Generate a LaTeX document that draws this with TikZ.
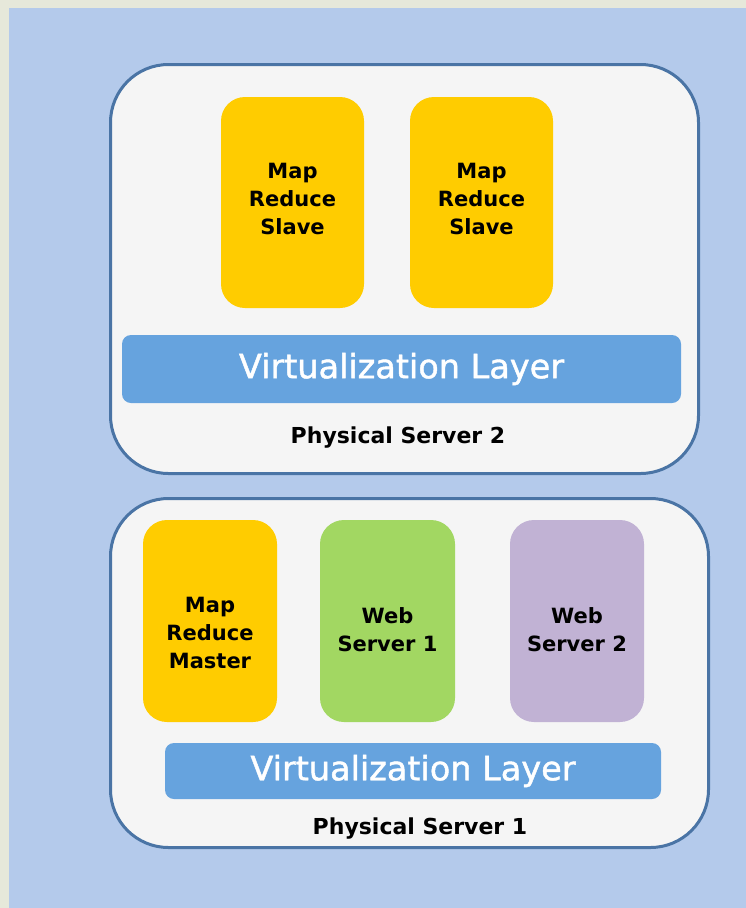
\documentclass[tikz,border=0pt]{standalone}
\usepackage{fontspec}
\setmainfont{DejaVu Sans}
\newfontface\virtfont{DejaVu Sans}[FakeBold=1.3]
\usetikzlibrary{positioning}
\definecolor{bgout}{HTML}{E6E8DA}
\definecolor{panel}{HTML}{B4CAEB}
\definecolor{srvedge}{HTML}{4A74A5}
\definecolor{srvfill}{HTML}{F5F5F5}
\definecolor{mr}{HTML}{FFCC00}
\definecolor{webone}{HTML}{A2D762}
\definecolor{webtwo}{HTML}{C1B2D4}
\definecolor{virt}{HTML}{66A3DE}
\tikzset{
  server/.style={draw=srvedge,line width=3pt,fill=srvfill,rounded corners=58pt,inner sep=0pt},
  vm/.style={fill=#1,rounded corners=24pt,minimum width=138pt,minimum height=207pt,inner sep=0pt},
  vmtext/.style={align=center,font=\fontsize{21}{28}\selectfont\bfseries,text=black},
  virtlayer/.style={fill=virt,rounded corners=9pt,inner sep=0pt,text=white,font=\virtfont\fontsize{33.5}{40}\selectfont},
  srvlabel/.style={font=\fontsize{22}{26}\selectfont\bfseries,text=black},
}
\begin{document}
\begin{tikzpicture}[x=1pt,y=-1pt]
  \useasboundingbox (0,0) rectangle (746,908);
  \fill[bgout] (0,0) rectangle (746,908);
  \fill[panel] (9,8) rectangle (746,908);
  % physical server 2
  \node[server,minimum width=588pt,minimum height=409pt] (ps2) at (404.5,269) {};
  \foreach \x/\n in {292.5/a,481.5/b}{
    \node[vm=mr,minimum width=143pt,minimum height=211pt] (slave\n) at (\x,202.5) {};
    \node[vmtext] at ([yshift=4pt]slave\n.center) {Map\\Reduce\\Slave};
  }
  \node[virtlayer,minimum width=559pt,minimum height=68pt] (virt2) at (401.5,369) {Virtualization Layer};
  \node[srvlabel] (ps2label) at (398,438) {Physical Server 2};
  % physical server 1
  \node[server,minimum width=598pt,minimum height=349pt] (ps1) at (409.5,673) {};
  \node[vm=mr,minimum width=134pt,minimum height=202pt] (master) at (210,621) {};
  \node[vmtext] at ([yshift=-12pt]master.center) {Map\\Reduce\\Master};
  \node[vm=webone,minimum width=135pt,minimum height=202pt] (web1) at (387.5,621) {};
  \node[vmtext] at ([yshift=-9pt]web1.center) {Web\\Server 1};
  \node[vm=webtwo,minimum width=134pt,minimum height=202pt] (web2) at (577,621) {};
  \node[vmtext] at ([yshift=-9pt]web2.center) {Web\\Server 2};
  \node[virtlayer,minimum width=496pt,minimum height=56pt] (virt1) at (413,771) {Virtualization Layer};
  \node[srvlabel] (ps1label) at (420,829) {Physical Server 1};
\end{tikzpicture}
\end{document}
